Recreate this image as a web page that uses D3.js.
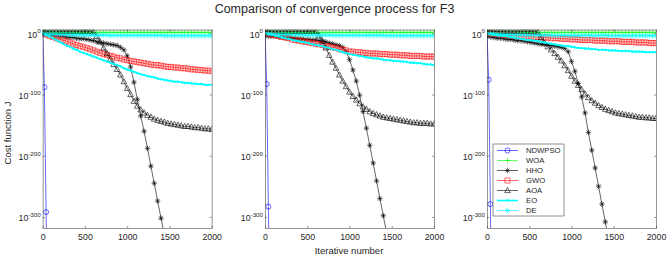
<!DOCTYPE html>
<html>
<head>
<meta charset="utf-8">
<script src="https://cdn.jsdelivr.net/npm/d3@7"></script>
<style>
  body { margin: 0; background: #fff; }
  svg { display: block; }
  text { font-family: "Liberation Sans", Arial, sans-serif; fill: #262626; }
</style>
</head>
<body>
<svg id="chart"></svg>
<script>
// Convergence curves for F3, three runs side by side.
// Values are log10 of the cost (so -100 means 10^-100).
// null = the cost reached exactly zero, so semilogy draws nothing there.

const algorithms = ["NDWPSO", "WOA", "HHO", "GWO", "AOA", "EO", "DE"];
const xTicks = [0, 500, 1000, 1500, 2000];
const yTicks = [0, -100, -200, -300];

const iterations = [0, 40, 80, 120, 160, 200, 240, 280, 320, 360, 400, 440, 480, 520, 560, 600, 640,
  680, 720, 760, 800, 840, 880, 920, 960, 1000, 1040, 1080, 1120, 1160, 1200, 1240, 1280, 1320,
  1360, 1400, 1440, 1480, 1520, 1560, 1600, 1640, 1680, 1720, 1760, 1800, 1840, 1880, 1920, 1960, 2000];
const ndwpsoIterations = [0, 20, 40, 44];

// same flat curves in all three runs
const woaValues = [4, 3, 2, 2, 1.5, 1.5, 1.5, 1.5, 1.5, 1.5, 1.5, 1.5, 1.5, 1.5, 1.5, 1.5, 1.5, 1.5, 1.5, 1.5,
  1.5, 1.5, 1.5, 1.5, 1.5, 1.5, 1.5, 1.5, 1.5, 1.5, 1.5, 1.5, 1.5, 1.5, 1.5, 1.5, 1.5, 1.5, 1.5, 1.5,
  1.5, 1.5, 1.5, 1.5, 1.5, 1.5, 1.5, 1.5, 1.5, 1.5, 1.5];
const deValues = [0, -1, -1, -1.5, -1.5, -2, -2, -2, -2.5, -2.5, -2.5, -2.5, -3, -3, -3, -3, -3, -3, -3, -3,
  -3.5, -3.5, -3.5, -3.5, -3.5, -3.5, -3.5, -3.5, -3.5, -3.5, -3.5, -3.5, -3.5, -3.5, -3.5, -3.5, -4, -4, -4, -4,
  -4, -4, -4, -4, -4, -4, -4, -4, -4, -4, -4];

// run 1
const ndwpsoP1 = [0, -88, -292, -330];
const hhoP1 = [-2, -2, -3, -3, -4, -5, -5, -6, -7, -7, -8, -9, -9, -10, -11, -12, -14, -15, -16, -17,
  -18, -19, -20, -23, -27, -37, -55, -80, -108, -135, -160, -188, -217, -245, -274, -302, -330, null, null, null,
  null, null, null, null, null, null, null, null, null, null, null];
const gwoP1 = [0, -2, -4, -6, -8, -10, -11, -13, -15, -17, -19, -21, -22, -24, -26, -28, -30, -32, -34, -35,
  -37, -38, -40, -41, -43, -44, -45, -46, -47, -48, -49, -50, -51, -52, -52, -53, -54, -55, -55, -56,
  -56, -57, -57, -58, -59, -59, -60, -60, -61, -61, -62];
const aoaP1 = [3, 3, 3, 3, 3, 3, 3, 3, 3, 3, 3, 3, 3, 3, 3, 2, -5, -14, -24, -33,
  -42, -51, -59, -68, -79, -90, -100, -111, -119, -125, -130, -134, -137, -140, -142, -144, -145, -147, -148, -149,
  -150, -151, -152, -152, -153, -154, -154, -155, -156, -156, -157];
const eoP1 = [0, -3, -5, -8, -11, -14, -17, -20, -22, -25, -27, -30, -32, -34, -36, -38, -40, -42, -44, -46,
  -48, -50, -52, -54, -57, -59, -61, -63, -65, -67, -68, -70, -71, -72, -74, -75, -76, -77, -78, -79,
  -79, -80, -81, -81, -82, -82, -83, -83, -84, -84, -84];

// run 2
const ndwpsoP2 = [0, -83, -283, -330];
const hhoP2 = [-4, -5, -5, -5, -6, -6, -7, -7, -8, -8, -9, -9, -10, -10, -11, -11, -12, -13, -14, -16,
  -17, -19, -20, -23, -30, -43, -60, -78, -101, -128, -155, -183, -212, -241, -270, -298, -327, null, null, null,
  null, null, null, null, null, null, null, null, null, null, null];
const gwoP2 = [0, -1, -2, -3, -4, -6, -7, -8, -10, -11, -12, -13, -14, -15, -16, -17, -18, -19, -21, -22,
  -23, -24, -26, -27, -28, -30, -30, -31, -31, -32, -32, -33, -33, -33, -34, -34, -34, -35, -35, -35,
  -36, -36, -36, -37, -37, -37, -37, -38, -38, -38, -38];
const aoaP2 = [3, 3, 3, 3, 3, 3, 3, 3, 3, 3, 3, 3, 3, 3, 3, 3, -4, -13, -24, -36,
  -47, -57, -68, -78, -87, -96, -103, -109, -115, -120, -124, -128, -131, -133, -135, -137, -138, -139, -140, -141,
  -142, -143, -144, -145, -146, -146, -147, -147, -147, -148, -148];
const eoP2 = [0, -1, -2, -4, -5, -7, -8, -9, -11, -12, -13, -14, -15, -16, -18, -19, -20, -21, -23, -24,
  -26, -27, -29, -31, -32, -34, -35, -36, -37, -38, -39, -40, -41, -41, -42, -43, -44, -44, -45, -45,
  -46, -46, -47, -48, -48, -49, -49, -50, -51, -51, -52];

// run 3
const ndwpsoP3 = [0, -76, -279, -330];
const hhoP3 = [-5, -6, -7, -8, -8, -9, -10, -10, -11, -12, -12, -13, -14, -15, -16, -17, -18, -18, -19, -20,
  -21, -22, -23, -25, -30, -46, -62, -82, -104, -130, -162, -191, -220, -250, -279, -308, -337, null, null, null,
  null, null, null, null, null, null, null, null, null, null, null];
const gwoP3 = [0, 0, -1, -1, -2, -2, -3, -3, -3, -4, -4, -5, -5, -5, -6, -6, -7, -7, -7, -8,
  -8, -8, -9, -9, -9, -10, -10, -10, -11, -11, -11, -11, -12, -12, -12, -12, -13, -13, -13, -13,
  -14, -14, -14, -14, -15, -15, -15, -15, -16, -16, -16];
const aoaP3 = [3, 3, 3, 3, 3, 3, 3, 3, 3, 3, 3, 3, 3, 3, 3, 2, -7, -16, -22, -27,
  -33, -39, -45, -53, -61, -70, -78, -85, -92, -99, -105, -110, -114, -118, -121, -124, -126, -128, -130, -131,
  -132, -133, -134, -135, -136, -137, -137, -138, -138, -139, -139];
const eoP3 = [0, -1, -2, -3, -4, -4, -5, -6, -7, -8, -9, -10, -11, -11, -12, -13, -14, -15, -16, -17,
  -18, -19, -20, -21, -21, -22, -23, -24, -24, -25, -25, -26, -26, -27, -27, -27, -28, -28, -28, -29,
  -29, -29, -29, -30, -30, -30, -30, -31, -31, -31, -31];

const panels = [
  { left: 42.7, series: { NDWPSO: ndwpsoP1, WOA: woaValues, HHO: hhoP1, GWO: gwoP1, AOA: aoaP1, EO: eoP1, DE: deValues } },
  { left: 265, series: { NDWPSO: ndwpsoP2, WOA: woaValues, HHO: hhoP2, GWO: gwoP2, AOA: aoaP2, EO: eoP2, DE: deValues } },
  { left: 487, series: { NDWPSO: ndwpsoP3, WOA: woaValues, HHO: hhoP3, GWO: gwoP3, AOA: aoaP3, EO: eoP3, DE: deValues } },
];

// Line and marker styles (MATLAB-like)
const styles = {
  NDWPSO: { color: "#0000ff", marker: "circle", lineWidth: 0.6 },
  WOA: { color: "#00ff00", marker: "plus", lineWidth: 0.6 },
  HHO: { color: "#000000", marker: "star", lineWidth: 0.6 },
  GWO: { color: "#ff0000", marker: "square", lineWidth: 0.6 },
  AOA: { color: "#000000", marker: "triangle", lineWidth: 0.6 },
  EO: { color: "#00ffff", marker: "dot", lineWidth: 1.6 },
  DE: { color: "#00ffff", marker: "star", lineWidth: 0.6 },
};

const width = 668, height = 258;
const plotTop = 29.6, plotBottom = 228, plotWidth = 169;
const axisColor = "#262626";

const svg = d3.select("#chart").attr("width", width).attr("height", height);

// log10 values on a linear scale = semilogy
const y = d3.scaleLinear().domain([-318, 6]).range([plotBottom, plotTop]);

// custom marker shapes for d3.symbol
const plusType = {
  draw(ctx, size) {
    const r = Math.sqrt(size) / 2;
    ctx.moveTo(-r, 0); ctx.lineTo(r, 0);
    ctx.moveTo(0, -r); ctx.lineTo(0, r);
  },
};
const starType = {
  draw(ctx, size) {
    const r = Math.sqrt(size) / 2, k = r * 0.72;
    ctx.moveTo(-r, 0); ctx.lineTo(r, 0);
    ctx.moveTo(0, -r); ctx.lineTo(0, r);
    ctx.moveTo(-k, -k); ctx.lineTo(k, k);
    ctx.moveTo(-k, k); ctx.lineTo(k, -k);
  },
};
const triangleType = {
  draw(ctx, size) {
    const r = Math.sqrt(size) / 2;
    ctx.moveTo(0, -r * 1.1);
    ctx.lineTo(r, r * 0.75);
    ctx.lineTo(-r, r * 0.75);
    ctx.closePath();
  },
};
const symbols = {
  circle: d3.symbol().type(d3.symbolCircle).size(20)(),
  plus: d3.symbol().type(plusType).size(30)(),
  star: d3.symbol().type(starType).size(30)(),
  square: d3.symbol().type(d3.symbolSquare).size(26)(),
  triangle: d3.symbol().type(triangleType).size(32)(),
  dot: d3.symbol().type(d3.symbolCircle).size(3)(),
};

panels.forEach(function (panel, pi) {
  const x = d3.scaleLinear().domain([0, 2000]).range([panel.left, panel.left + plotWidth]);
  const g = svg.append("g");

  svg.append("clipPath")
    .attr("id", "clip" + pi)
    .append("rect")
    .attr("x", panel.left)
    .attr("y", plotTop)
    .attr("width", plotWidth)
    .attr("height", plotBottom - plotTop);

  const plotArea = g.append("g").attr("clip-path", "url(#clip" + pi + ")");

  const line = d3.line()
    .defined(d => d[1] !== null)
    .x(d => x(d[0]))
    .y(d => y(d[1]));

  algorithms.forEach(function (name) {
    const values = panel.series[name];
    const xs = name === "NDWPSO" ? ndwpsoIterations : iterations;
    const points = xs.map((it, i) => [it, values[i]]);
    const st = styles[name];

    plotArea.append("path")
      .datum(points)
      .attr("d", line)
      .attr("fill", "none")
      .attr("stroke", st.color)
      .attr("stroke-width", st.lineWidth);

    plotArea.append("g")
      .selectAll("path")
      .data(points.filter(d => d[1] !== null))
      .join("path")
      .attr("transform", d => "translate(" + x(d[0]) + "," + y(d[1]) + ")")
      .attr("d", symbols[st.marker])
      .attr("fill", st.marker === "dot" ? st.color : "none")
      .attr("stroke", st.color)
      .attr("stroke-width", 0.6);
  });

  // axes, ticks pointing inward, box all round
  const bottom = g.append("g")
    .attr("transform", "translate(0," + plotBottom + ")")
    .call(d3.axisBottom(x).tickValues(xTicks).tickSize(-2).tickSizeOuter(0).tickPadding(6)
      .tickFormat(d3.format("d")));
  g.append("g")
    .attr("transform", "translate(0," + plotTop + ")")
    .call(d3.axisTop(x).tickValues(xTicks).tickSize(-2).tickSizeOuter(0).tickFormat(""));
  const left = g.append("g")
    .attr("transform", "translate(" + panel.left + ",0)")
    .call(d3.axisLeft(y).tickValues(yTicks).tickSize(-2).tickSizeOuter(0).tickPadding(2).tickFormat(""));
  g.append("g")
    .attr("transform", "translate(" + (panel.left + plotWidth) + ",0)")
    .call(d3.axisRight(y).tickValues(yTicks).tickSize(-2).tickSizeOuter(0).tickFormat(""));

  g.selectAll(".domain, .tick line").attr("stroke", axisColor).attr("stroke-width", 0.5);

  bottom.selectAll(".tick text")
    .attr("font-size", 8.8)
    .attr("font-family", null)
    .attr("fill", axisColor);

  // 10^n labels with superscript
  left.selectAll(".tick text")
    .attr("font-family", null)
    .attr("fill", axisColor)
    .attr("dy", null)
    .attr("y", 4)
    .each(function (d) {
      const t = d3.select(this).text(null);
      t.append("tspan").attr("font-size", 8.8).text("10");
      t.append("tspan").attr("font-size", 6.2).attr("dy", -4.5).text(d);
    });
});

// title and axis labels
svg.append("text")
  .attr("x", 334.5)
  .attr("y", 13)
  .attr("text-anchor", "middle")
  .attr("font-size", 12.5)
  .attr("fill", "#000")
  .text("Comparison of convergence process for F3");

svg.append("text")
  .attr("x", 349)
  .attr("y", 254)
  .attr("text-anchor", "middle")
  .attr("font-size", 9.5)
  .text("Iterative number");

svg.append("text")
  .attr("transform", "translate(11,133) rotate(-90)")
  .attr("text-anchor", "middle")
  .attr("font-size", 9.5)
  .text("Cost function J");

// legend inside the third panel
const legend = svg.append("g").attr("transform", "translate(493,144)");
legend.append("rect")
  .attr("width", 71)
  .attr("height", 72)
  .attr("fill", "#fff")
  .attr("stroke", axisColor)
  .attr("stroke-width", 0.5);

const legendRow = d3.scaleBand().domain(algorithms).range([1.5, 71.5]);

algorithms.forEach(function (name) {
  const st = styles[name];
  const cy = legendRow(name) + legendRow.bandwidth() / 2;
  const row = legend.append("g").attr("transform", "translate(0," + cy + ")");
  row.append("line")
    .attr("x1", 4).attr("x2", 25)
    .attr("stroke", st.color)
    .attr("stroke-width", st.lineWidth);
  row.append("path")
    .attr("transform", "translate(14.5,0)")
    .attr("d", symbols[st.marker])
    .attr("fill", st.marker === "dot" ? st.color : "none")
    .attr("stroke", st.color)
    .attr("stroke-width", 0.6);
  row.append("text")
    .attr("x", 33)
    .attr("y", 2.8)
    .attr("font-size", 7.7)
    .attr("fill", "#000")
    .text(name);
});
</script>
</body>
</html>
